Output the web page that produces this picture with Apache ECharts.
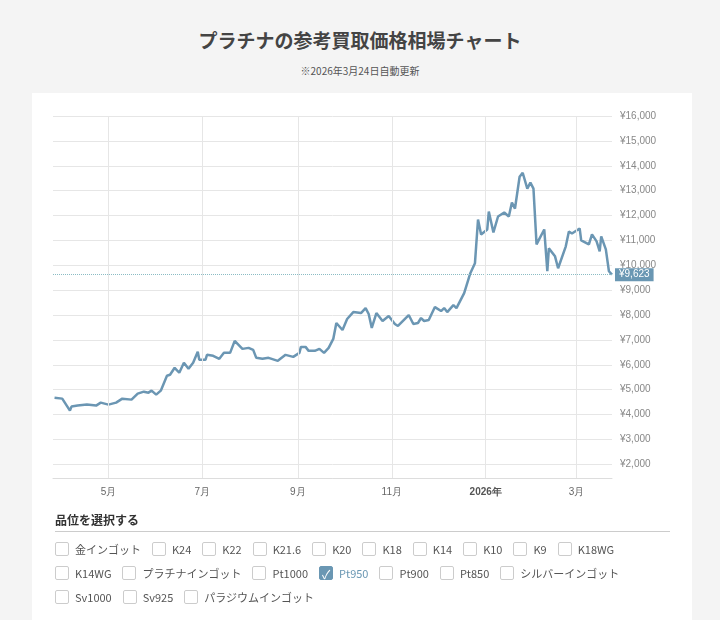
<!DOCTYPE html>
<html>
<head>
<meta charset="utf-8">
<script src="https://cdn.jsdelivr.net/npm/echarts@6/dist/echarts.min.js"></script>
<style>
body{margin:0;background:#f4f4f4;font-family:"Noto Sans CJK JP","Noto Sans",sans-serif;}
#wrap{position:relative;width:720px;height:620px;overflow:hidden;}
#title{position:absolute;top:26px;width:720px;text-align:center;font-size:19px;font-weight:bold;color:#444;}
#sub{position:absolute;top:63px;width:720px;text-align:center;font-size:10px;color:#555;}
#panel{position:absolute;left:32px;top:93px;width:660px;height:540px;background:#fff;}
#chart{position:absolute;left:0;top:0;width:720px;height:620px;}
#sel{position:absolute;left:55px;top:511px;width:615px;}
#sel h3{margin:0;font-size:12px;color:#333;font-weight:bold;padding-bottom:3px;border-bottom:1px solid #ccc;}
.row{height:24px;margin-top:0;font-size:11px;color:#555;display:flex;align-items:center;}
.row:first-of-type{margin-top:5px;}
.cb{display:inline-flex;align-items:center;margin-right:11px;}
.cb i{display:inline-block;width:14px;height:14px;border:1px solid #ccc;border-radius:2px;margin-right:6px;box-sizing:border-box;}
.cb.on i{background:#6a97b3;border-color:#6a97b3;color:#fff;font-style:normal;font-size:12px;line-height:13px;text-align:center;}
.cb.on{color:#6a97b3;}
</style>
</head>
<body>
<div id="wrap">
<div id="panel"></div>
<div id="title">プラチナの参考買取価格相場チャート</div>
<div id="sub">※2026年3月24日自動更新</div>
<div id="chart"></div>
<div id="sel">
<h3>品位を選択する</h3>
<div class="row" id="r1"></div>
<div class="row" id="r2"></div>
<div class="row" id="r3"></div>
</div>
</div>
<script>
// 品位リスト
var row1 = ["金インゴット","K24","K22","K21.6","K20","K18","K14","K10","K9","K18WG"];
var row2 = ["K14WG","プラチナインゴット","Pt1000","Pt950","Pt900","Pt850","シルバーインゴット"];
var row3 = ["Sv1000","Sv925","パラジウムインゴット"];
var selected = "Pt950";

// Pt950 価格推移
var dates = ["2025-03-27","2025-04-01","2025-04-06","2025-04-07","2025-04-11","2025-04-17","2025-04-23","2025-04-26",
"2025-05-01","2025-05-06","2025-05-10","2025-05-16","2025-05-20","2025-05-24","2025-05-27","2025-05-29",
"2025-06-01","2025-06-04","2025-06-08","2025-06-10","2025-06-13","2025-06-16","2025-06-19","2025-06-22","2025-06-25","2025-06-28","2025-06-29",
"2025-07-03","2025-07-04","2025-07-08","2025-07-12","2025-07-15","2025-07-19","2025-07-22","2025-07-27","2025-07-31",
"2025-08-03","2025-08-05","2025-08-09","2025-08-13","2025-08-19","2025-08-24","2025-08-29",
"2025-09-02","2025-09-03","2025-09-06","2025-09-08","2025-09-12","2025-09-15","2025-09-18","2025-09-21","2025-09-24","2025-09-26","2025-09-30",
"2025-10-03","2025-10-07","2025-10-12","2025-10-15","2025-10-17","2025-10-19","2025-10-22","2025-10-26","2025-10-30",
"2025-11-03","2025-11-05","2025-11-12","2025-11-15","2025-11-18","2025-11-20","2025-11-22","2025-11-25","2025-11-29",
"2025-12-03","2025-12-05","2025-12-07","2025-12-11","2025-12-13","2025-12-17","2025-12-18","2025-12-20","2025-12-22","2025-12-25","2025-12-27","2025-12-29",
"2026-01-02","2026-01-03","2026-01-06","2026-01-09","2026-01-13","2026-01-16","2026-01-18","2026-01-20","2026-01-23","2026-01-25","2026-01-28","2026-01-30",
"2026-02-01","2026-02-03","2026-02-04","2026-02-08","2026-02-10","2026-02-11","2026-02-15","2026-02-17","2026-02-22","2026-02-24","2026-02-26",
"2026-03-03","2026-03-04","2026-03-05","2026-03-09","2026-03-11","2026-03-14","2026-03-16","2026-03-17","2026-03-20","2026-03-22","2026-03-24"];
var prices = [4680,4640,4160,4320,4360,4400,4360,4480,
4400,4480,4640,4600,4840,4920,4880,4960,
4800,4960,5560,5600,5880,5680,6080,5840,6080,6520,6200,
6200,6400,6360,6240,6480,6480,6960,6640,6680,
6600,6280,6240,6280,6160,6400,6320,
6480,6720,6720,6560,6560,6640,6480,6680,7040,7680,7400,
7840,8120,8080,8280,8040,7480,8080,7760,7960,
7640,7560,8000,7640,7680,7880,7760,7800,8320,
8160,8280,8120,8400,8280,8760,8880,9280,9680,10080,11840,11240,
11440,12160,11320,11960,12120,11960,12520,12280,13560,13720,13080,13320,
13080,10840,10960,11440,9760,10680,10360,9880,10760,11360,11280,
11480,11000,11080,10840,11240,10960,10560,11160,10640,9760,9623];
var latest = 9623;
var gridMonths = ["2025-05-01","2025-07-01","2025-09-01","2025-11-01","2026-01-01","2026-03-01"];

function fillRow(id, items) {
	var html = "";
	for (var i = 0; i < items.length; i++) {
		var on = items[i] == selected;
		html += '<span class="cb' + (on ? ' on' : '') + '"><i>' + (on ? '✓' : '') + '</i>' + items[i] + '</span>';
	}
	document.getElementById(id).innerHTML = html;
}
fillRow("r1", row1);
fillRow("r2", row2);
fillRow("r3", row3);

var data = [];
for (var i = 0; i < dates.length; i++) data.push([dates[i], prices[i]]);

var chart = echarts.init(document.getElementById('chart'));
chart.setOption({
	animation: false,
	grid: {left: 53, right: 108, top: 116, bottom: 142},
	xAxis: {
		type: 'time',
		min: '2025-03-26',
		max: '2026-03-24',
		splitNumber: 12,
		axisLine: {lineStyle: {color: '#ddd'}},
		axisTick: {show: false},
		splitLine: {show: false},
		axisLabel: {
			color: '#666', fontSize: 10, margin: 9,
			formatter: function(v) {
				var d = new Date(v);
				if (d.getDate() != 1) return '';
				var m = d.getMonth() + 1;
				if (m % 2 == 0) return '';
				if (m == 1) return '{b|' + d.getFullYear() + '年}';
				return m + '月';
			},
			rich: {b: {fontWeight: 'bold', color: '#555', fontSize: 10}}
		}
	},
	yAxis: {
		type: 'value',
		position: 'right',
		min: 1450,
		max: 16000,
		splitNumber: 15,
		axisLine: {show: false},
		axisTick: {show: false},
		splitLine: {lineStyle: {color: '#e6e6e6'}},
		axisLabel: {
			color: '#888', fontSize: 10, margin: 8, showMinLabel: false,
			formatter: function(v) { return '¥' + v.toLocaleString('en-US'); }
		}
	},
	series: [{
		type: 'line',
		data: data,
		showSymbol: false,
		lineStyle: {color: '#6b96b3', width: 2.5},
		itemStyle: {color: '#6b96b3'},
		markLine: {
			silent: true,
			symbol: 'none',
			data: [
				{yAxis: latest, lineStyle: {color: '#8bbcc4', type: 'dotted', width: 1},
				 label: {show: true, position: 'end', formatter: '¥9,623', color: '#fff', fontSize: 10,
					backgroundColor: '#6a97b3', padding: [2, 4, 1, 4], distance: 3}}
			].concat(gridMonths.map(function(m) {
				return {xAxis: m, lineStyle: {color: '#e6e6e6', type: 'solid', width: 1}, label: {show: false}};
			}))
		}
	}]
});
</script>
</body>
</html>
